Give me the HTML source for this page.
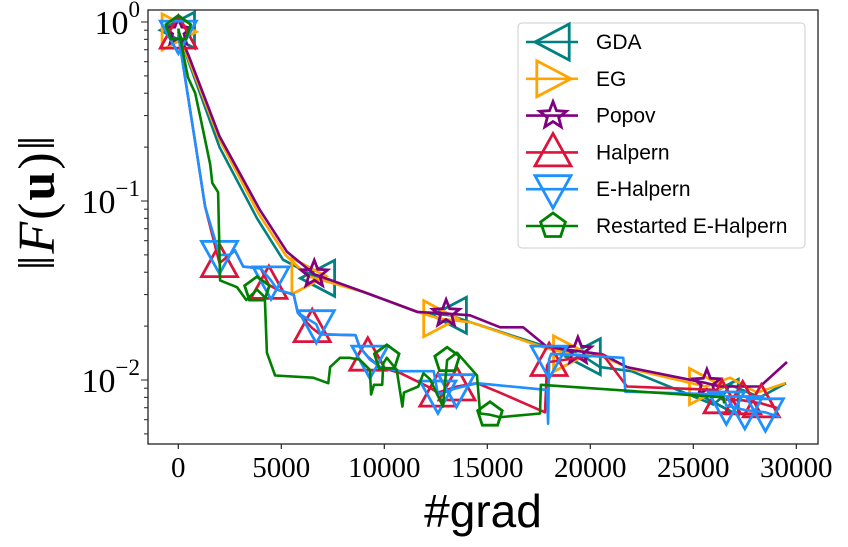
<!DOCTYPE html>
<html><head><meta charset="utf-8"><style>
body{margin:0;background:#fff}
svg text{font-family:"Liberation Serif",serif}
</style></head><body>
<svg id="chart" width="848" height="542" viewBox="0 0 848 542" xmlns="http://www.w3.org/2000/svg">
<g id="plot"></g>
<rect x="148" y="10" width="670" height="434" fill="none" stroke="#222" stroke-width="1.3"/>
<g id="ticks"></g>
<text x="483" y="527" text-anchor="middle" font-size="46" style="font-family:'Liberation Sans',sans-serif">#grad</text>
<text transform="translate(54,202) rotate(-90)" text-anchor="middle" font-size="52" letter-spacing="2">‖<tspan font-style="italic">F</tspan>(<tspan font-weight="bold">u</tspan>)‖</text>
<g id="legend"></g>
</svg>
<script>
const gdaX=[0,500,2000,3820,5083,6800,9000,11600,13200,14200,17900,19700,20470,22000,25970,26400,26780,28240,29500];
const gdaY=[0.9,0.6,0.2,0.08,0.047,0.037,0.031,0.024,0.023,0.021,0.0153,0.0135,0.0118,0.0112,0.0073,0.008,0.0094,0.008,0.0096];
const gdaM=[0,5,8,11,15];
const egX=[0,500,2000,3900,5200,6300,9000,11600,12700,14200,17900,19000,20600,22000,25600,26780,28090,29460];
const egY=[0.88,0.62,0.22,0.085,0.05,0.038,0.031,0.024,0.022,0.021,0.015,0.014,0.0135,0.0115,0.0092,0.0103,0.0085,0.0096];
const egM=[0,5,8,11,14];
const popX=[0,500,2000,3966,5276,6600,9000,11600,13000,14160,15620,16740,17900,19400,20600,21780,25660,26300,28240,29550];
const popY=[0.88,0.65,0.23,0.089,0.052,0.039,0.031,0.024,0.0235,0.023,0.0197,0.0197,0.0153,0.0145,0.0139,0.0118,0.0096,0.0092,0.0092,0.0126];
const popM=[0,5,8,13,16];
const halX=[0,800,1300,2000,2750,3150,4000,4400,4800,5600,5800,6500,6900,8600,8800,9200,9800,10800,12100,12600,13530,14500,15600,17800,17900,18000,20600,21780,26150,26400,27400,28300,29200];
const halY=[0.85,0.22,0.093,0.045,0.053,0.043,0.042,0.034,0.032,0.03,0.0237,0.0195,0.018,0.0178,0.0153,0.0135,0.0118,0.0109,0.0092,0.0085,0.0092,0.0096,0.0085,0.0066,0.012,0.0126,0.0139,0.0092,0.0088,0.0078,0.0077,0.0074,0.0069];
const halM=[0,3,7,11,15,19,20,25,29,30,31];
const ehX=[0,800,1300,2000,2500,2750,3150,4000,4500,4800,5600,5800,6700,6900,8600,8800,9300,9800,10800,12400,12600,13500,14500,17900,17950,18000,18100,21600,21700,26450,26600,27500,28500,29200];
const ehY=[0.85,0.22,0.093,0.05,0.05,0.053,0.043,0.042,0.036,0.032,0.03,0.0237,0.0205,0.018,0.0178,0.0153,0.013,0.0118,0.0112,0.0112,0.0083,0.009,0.0096,0.0088,0.0057,0.013,0.014,0.0133,0.0086,0.0083,0.0072,0.0068,0.0066,0.0062];
const ehM=[0,3,8,12,16,20,21,25,30,31,32];
const reX=[0,470,820,1200,1550,1650,1930,2030,2850,3300,3820,4200,4300,4700,6550,7280,7370,7850,8300,8800,9300,9360,9500,9900,9950,10120,10600,10880,10950,11650,11900,12220,12850,13050,13530,14500,14650,15130,15620,17560,17600,26450,26500];
const reY=[0.92,0.49,0.4,0.25,0.16,0.126,0.112,0.036,0.033,0.028,0.032,0.029,0.0142,0.0106,0.0103,0.0096,0.0118,0.0133,0.0133,0.013,0.0114,0.0083,0.0094,0.0094,0.0124,0.0133,0.0114,0.0071,0.0085,0.0092,0.0109,0.0101,0.0071,0.0129,0.0142,0.0106,0.0065,0.0064,0.0062,0.0065,0.0094,0.008,0.0074];
const reM=[0,10,25,33,37];
const xTicks=[0,5000,10000,15000,20000,25000,30000];
const yTickExp=[0,-1,-2];
const legendLabels=["GDA","EG","Popov","Halpern","E-Halpern","Restarted E-Halpern"];

const NS="http://www.w3.org/2000/svg";
function xs(v){return 178.3+v*0.0206;}
function ys(v){return 22-Math.log10(v)*179;}
function mk(t,a,p){const e=document.createElementNS(NS,t);for(const k in a)e.setAttribute(k,a[k]);(p||plot).appendChild(e);return e;}
const plot=document.getElementById('plot'),ticks=document.getElementById('ticks'),legend=document.getElementById('legend');
function markerPath(shape,cx,cy){
  const r=18;let pts=[];
  if(shape==='left')pts=[[-r,0],[r*0.9,-r],[r*0.9,r]];
  if(shape==='right')pts=[[r,0],[-r*0.9,-r],[-r*0.9,r]];
  if(shape==='up')pts=[[0,-r*1.05],[r,r*0.75],[-r,r*0.75]];
  if(shape==='down')pts=[[0,r*1.05],[r,-r*0.75],[-r,-r*0.75]];
  if(shape==='star'){for(let i=0;i<10;i++){const a=-Math.PI/2+i*Math.PI/5,rr=i%2?6:14;pts.push([rr*Math.cos(a),rr*Math.sin(a)]);}}
  if(shape==='pent'){for(let i=0;i<5;i++){const a=-Math.PI/2+i*2*Math.PI/5;pts.push([13*Math.cos(a),13*Math.sin(a)]);}}
  return 'M'+pts.map(p=>(cx+p[0]).toFixed(1)+','+(cy+p[1]).toFixed(1)).join('L')+'Z';
}
const series=[
 [gdaX,gdaY,gdaM,'#008080','left','gda'],
 [egX,egY,egM,'#FFA500','right','eg'],
 [popX,popY,popM,'#800080','star','popov'],
 [halX,halY,halM,'#DC143C','up','halpern'],
 [ehX,ehY,ehM,'#1E90FF','down','e-halpern'],
 [reX,reY,reM,'#008000','pent','restarted-e-halpern']];
const clip=mk('clipPath',{id:'cp'});mk('rect',{x:148,y:10,width:670,height:434},clip);
series.forEach(s=>{
  const g=mk('g',{'clip-path':'url(#cp)'});
  
  
  const d=s[0].map((x,i)=>(i?'L':'M')+xs(x).toFixed(1)+','+ys(s[1][i]).toFixed(1)).join('');
  const l=mk('path',{d:d,fill:'none',stroke:s[3],'stroke-width':2.6,'stroke-linejoin':'round'},g);
  
  
  s[2].forEach(i=>{
    const m=mk('path',{d:markerPath(s[4],xs(s[0][i]),ys(s[1][i])),fill:'none',stroke:s[3],'stroke-width':2.8},g);
    
    
  });
});
xTicks.forEach(t=>{
  const x=xs(t);
  mk('line',{x1:x,x2:x,y1:444,y2:449,stroke:'#222','stroke-width':1.2},ticks);
  const tx=mk('text',{x:x,y:477,'text-anchor':'middle','font-size':29},ticks);
  tx.textContent=t;
  
  
});
for(let e=-3;e<=0;e++)for(let k=1;k<10;k++){
  const v=k*Math.pow(10,e);const y=ys(v);if(y<10||y>444)continue;
  mk('line',{x1:148,x2:k===1?141:144,y1:y,y2:y,stroke:'#222','stroke-width':1},ticks);
}
yTickExp.forEach(e=>{
  const y=ys(Math.pow(10,e));
  const tx=mk('text',{x:140,y:y+12,'text-anchor':'end','font-size':34},ticks);
  tx.innerHTML='10<tspan font-size="23" dy="-17">'+(e<0?'\u2212'+(-e):e)+'</tspan>';
  
  
});
mk('rect',{x:518,y:23,width:287,height:225,rx:4,fill:'#fff','fill-opacity':0.85,stroke:'#ccc','stroke-width':1},legend);
series.forEach((s,i)=>{
  const y=42+i*36.8;
  const g=mk('g',{},legend);
  
  
  mk('line',{x1:526,x2:578,y1:y,y2:y,stroke:s[3],'stroke-width':2.6},g);
  mk('path',{d:markerPath(s[4],553,y),fill:'none',stroke:s[3],'stroke-width':2.8},g);
  const t=mk('text',{x:596,y:y+7,'font-size':21,style:"font-family:'Liberation Sans',sans-serif"},g);
  t.textContent=legendLabels[i];
});
</script>
</body></html>
